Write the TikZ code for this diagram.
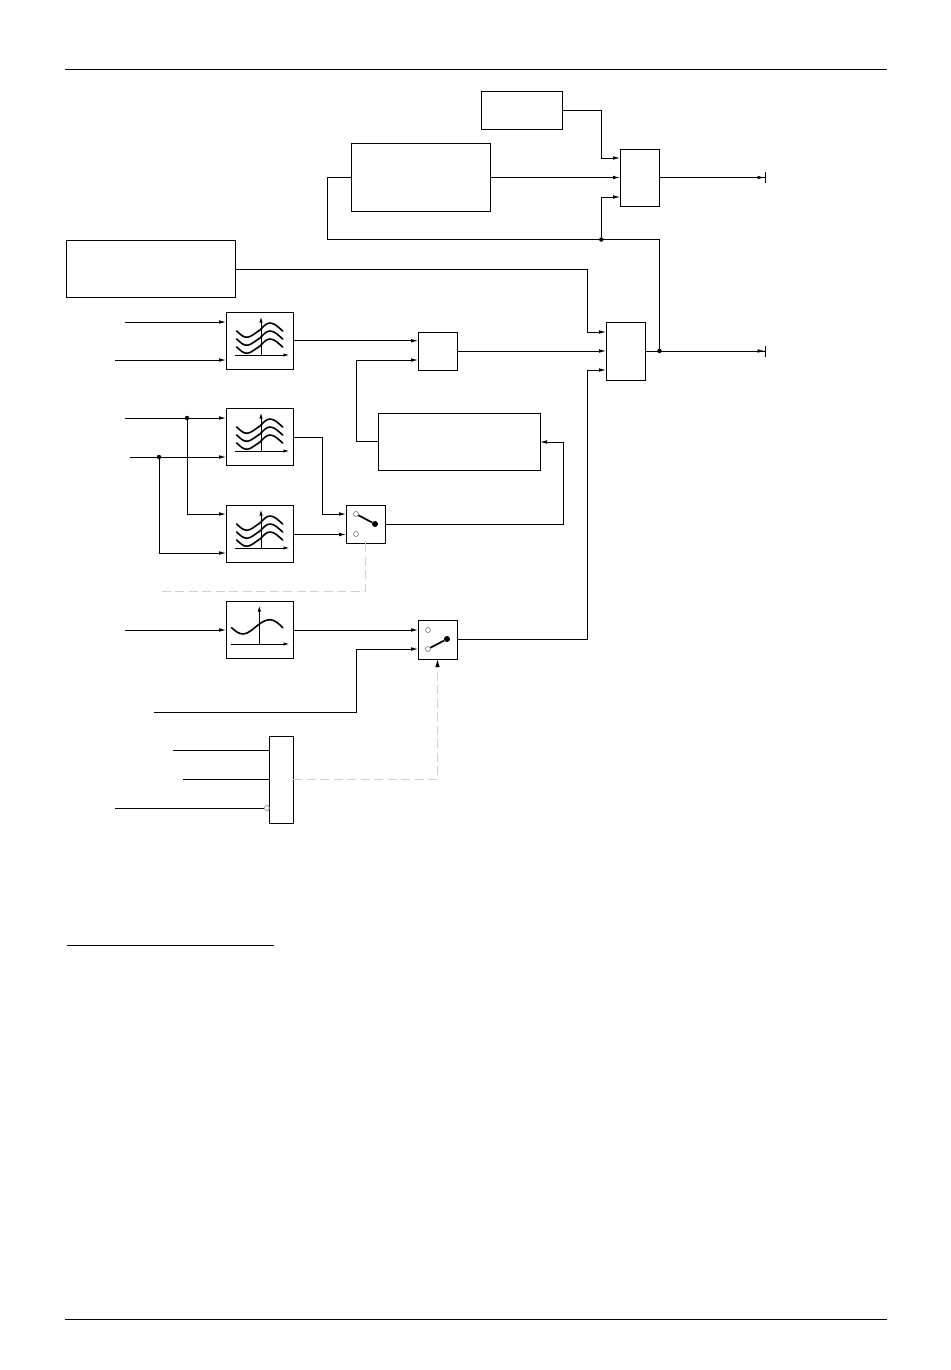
\documentclass[tikz,border=0pt]{standalone}
\usetikzlibrary{arrows.meta,calc}
\definecolor{dashgray}{gray}{0.82}
\tikzset{
  wire/.style={line width=0.8pt},
  arr/.style={wire,-{Latex[length=7pt,width=3.6pt]}},
  termarr/.style={wire,-{Latex[length=7pt,width=3.6pt]Bar[width=11pt,length=1pt]}},
  ctrl/.style={line width=0.9pt,dashgray,dash pattern=on 9pt off 4.5pt},
  ctrlarr/.style={ctrl,-{Latex[length=8pt,width=4.5pt,black]}},
  blk/.style={draw=black,line width=0.8pt,fill=white,inner sep=0pt,outer sep=0pt,anchor=center},
  rulel/.style={line width=0.8pt},
  axis/.style={line width=0.7pt,-{Latex[length=5.5pt,width=3.4pt]}},
  curve/.style={line width=1.6pt,line cap=round},
  dot/.style={circle,fill=black,inner sep=0pt,minimum size=4.5pt},
  pin/.style={circle,draw=black!60,fill=white,line width=0.5pt,inner sep=0pt,minimum size=5pt},
  pivot/.style={circle,fill=black,inner sep=0pt,minimum size=6pt},
  lever/.style={line width=1.7pt},
  threecurves/.pic={
    \draw[axis] (35,43) -- (35,5);
    \draw[axis] (9,43) -- (63,43);
    \foreach \d in {0,8,16}{
      \draw[curve] (10.7,19+\d) .. controls (14,22+\d) and (17,25.3+\d) .. (20.7,25.3+\d)
        .. controls (25,25.3+\d) and (29,21+\d) .. (34,18+\d)
        .. controls (37,15+\d) and (40,11+\d) .. (44,11+\d)
        .. controls (49,11+\d) and (53,16+\d) .. (56.7,19+\d);
    }
  },
  onecurve/.pic={
    \draw[axis] (33.3,43) -- (33.3,5);
    \draw[axis] (5,43) -- (63,43);
    \draw[curve] (5.7,26.7) .. controls (9,30) and (13,33) .. (17,33)
      .. controls (22,33) and (27,28) .. (32,24)
      .. controls (36,21) and (40,18.7) .. (44,18.7)
      .. controls (49,18.7) and (53,23) .. (56.7,26.7);
  }
}
\newcommand{\bx}[5]{\node[blk,minimum width=#4pt-#2pt,minimum height=#5pt-#3pt] (#1) at ({(#2+#4)/2},{(#3+#5)/2}) {};}
\begin{document}
\begin{tikzpicture}[x=1pt,y=-1pt]
\useasboundingbox (0,0) rectangle (950,1370);
% page rules
\coordinate (rtl) at (64.5,69); \coordinate (rtr) at (887,69);
\coordinate (rbl) at (64.5,1319); \coordinate (rbr) at (887,1319);
\coordinate (fnl) at (66.5,945); \coordinate (fnr) at (274,945);
\draw[rulel] (rtl) -- (rtr);
\draw[rulel] (rbl) -- (rbr);
\draw[rulel] (fnl) -- (fnr);
% blocks
\bx{top}{481}{91}{562}{129}
\bx{bigA}{351}{143}{490}{211}
\bx{muxa}{620}{149}{659}{206}
\bx{bigB}{66.7}{240}{235}{297}
\bx{muxb}{606}{322}{645}{380}
\bx{fa}{226}{312}{293}{369.5}
\bx{fb}{226}{408.5}{293}{465.5}
\bx{fc}{226}{505}{293}{562}
\bx{fd}{226}{601}{293}{658.5}
\bx{add}{418}{332}{457}{370}
\bx{bigC}{378}{413}{540}{470.5}
\bx{swa}{346}{505}{385}{543}
\bx{swb}{418}{620}{457}{659}
\bx{gate}{269}{736}{293}{823}
% icons
\pic at (226,312) {threecurves};
\pic at (226,408) {threecurves};
\pic at (226,505) {threecurves};
\pic at (226,601) {onecurve};
% switches
\node[pin] (sa1) at (356,514) {};
\node[pin] (sa2) at (356,534) {};
\node[pivot] (sap) at (375,524) {};
\draw[lever] (sa1) -- (sap);
\node[pin] (sb1) at (428,630) {};
\node[pin] (sb2) at (428,649) {};
\node[pivot] (sbp) at (447,639) {};
\draw[lever] (sb2) -- (sbp);
% free ends
\coordinate (oa) at (765.5,177.5); \coordinate (ob) at (765.5,351);
\coordinate (ia) at (125,322); \coordinate (ib) at (115,360);
\coordinate (ic) at (125,418); \coordinate (id) at (130,457);
\coordinate (ie) at (125,630); \coordinate (if) at (154,712);
\coordinate (ig) at (173,750); \coordinate (ih) at (183,779); \coordinate (ii) at (115,808);
\coordinate (iz) at (162,591);
% junctions
\node[dot] (ja) at (601.3,239.5) {};
\node[dot] (jb) at (659.5,351) {};
\node[dot] (jc) at (187,418) {};
\node[dot] (jd) at (159,457) {};
\node[pin] (neg) at (267,808) {};
% top mux
\draw[arr] (top.east) -- ++(39.3,0) |- (muxa.west |- 0,158);
\draw[arr] (bigA.east |- 0,177.5) -- (muxa.west |- 0,177.5);
\draw[arr] (ja) |- (muxa.west |- 0,197);
\draw[wire] (bigA.west |- 0,177.5) -| (327.5,239.5) -| (jb);
\draw[termarr] (muxa.east |- oa) -- (oa);
% lower mux
\draw[arr] (bigB.east |- 0,269) -| (587,332) -- (muxb.west |- 0,332);
\draw[arr] (add.east) -- (muxb.west |- add.east);
\draw[arr] (swb.east) -| (587,370) -- (muxb.west |- 0,370);
\draw[termarr] (muxb.east |- ob) -- (ob);
% filters
\draw[arr] (ia) -- (fa.west |- ia);
\draw[arr] (ib) -- (fa.west |- ib);
\draw[arr] (ic) -- (fb.west |- ic);
\draw[arr] (id) -- (fb.west |- id);
\draw[arr] (jc) |- (fc.west |- 0,514);
\draw[arr] (jd) |- (fc.west |- 0,553);
\draw[arr] (fa.east) -- (add.west |- fa.east);
\draw[arr] (bigC.west) -| (356.5,360) -- (add.west |- 0,360);
\draw[arr] (fb.east) -| (322,514) -- (swa.west |- 0,514);
\draw[arr] (fc.east |- 0,534.5) -- (swa.west |- 0,534.5);
\draw[arr] (swa.east) -| (563,442) -- (bigC.east |- 0,442);
\draw[ctrl] (swa.south) |- (iz);
% lower switch
\draw[arr] (ie) -- (fd.west |- ie);
\draw[arr] (fd.east |- ie) -- (swb.west |- ie);
\draw[arr] (if) -| (356.5,649) -- (swb.west |- 0,649);
% gate
\draw[wire] (ig) -- (gate.west |- ig);
\draw[wire] (ih) -- (gate.west |- ih);
\draw[wire] (ii) -- (neg);
\draw[ctrlarr] (gate.east |- ih) -| (swb.south);
\end{tikzpicture}
\end{document}
